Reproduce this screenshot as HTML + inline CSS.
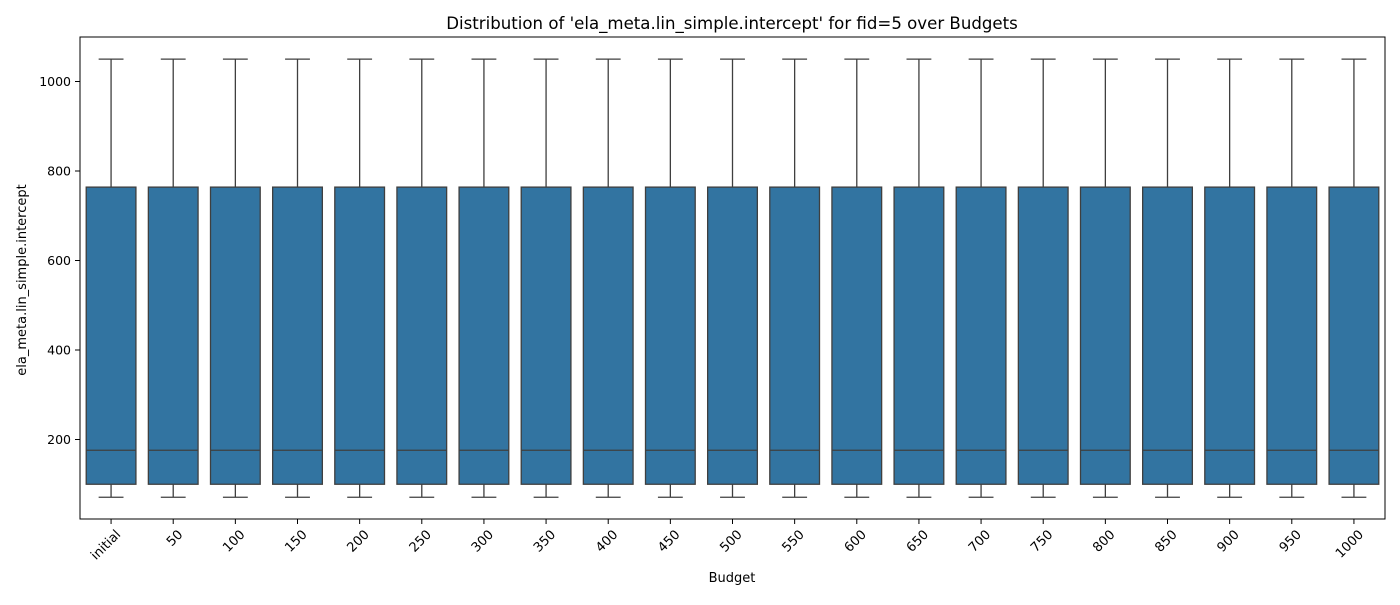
<!DOCTYPE html>
<html><head><meta charset="utf-8"><style>
body{margin:0;background:#fff}
svg text{font-family:"DejaVu Sans","Liberation Sans",sans-serif;fill:#000}
</style></head><body>
<svg id="chart" width="1400" height="600" viewBox="0 0 1400 600" xmlns="http://www.w3.org/2000/svg">
<text x="732" y="29" font-size="16.6" text-anchor="middle">Distribution of 'ela_meta.lin_simple.intercept' for fid=5 over Budgets</text>
<text transform="translate(26,280) rotate(-90)" font-size="13" text-anchor="middle">ela_meta.lin_simple.intercept</text>
<text x="732" y="582" font-size="13" text-anchor="middle">Budget</text>
<g id="boxes"></g>
<g id="yticks"></g>
<g id="xticks"></g>
<rect x="80" y="37" width="1305" height="482" fill="none" stroke="#000" stroke-width="1"/>
</svg>
<script>
const categories=["initial","50","100","150","200","250","300","350","400","450","500","550","600","650","700","750","800","850","900","950","1000"];
const whiskerLow=[71,71,71,71,71,71,71,71,71,71,71,71,71,71,71,71,71,71,71,71,71];
const q1=[100,100,100,100,100,100,100,100,100,100,100,100,100,100,100,100,100,100,100,100,100];
const median=[176,176,176,176,176,176,176,176,176,176,176,176,176,176,176,176,176,176,176,176,176];
const q3=[764,764,764,764,764,764,764,764,764,764,764,764,764,764,764,764,764,764,764,764,764];
const whiskerHigh=[1050,1050,1050,1050,1050,1050,1050,1050,1050,1050,1050,1050,1050,1050,1050,1050,1050,1050,1050,1050,1050];
const yTicks=[200,400,600,800,1000];
const NS="http://www.w3.org/2000/svg";
const L=80,R=1385;
const step=(R-L)/categories.length;
const x=i=>L+step*(i+0.5);
const y=v=>81.5+(1000-v)*0.4475;
function mk(tag,attrs,parent){const e=document.createElementNS(NS,tag);for(const k in attrs)e.setAttribute(k,attrs[k]);parent.appendChild(e);return e;}
const gb=document.getElementById('boxes'),gy=document.getElementById('yticks'),gx=document.getElementById('xticks');
const bw=step*0.8,cw=step*0.4,st="#3f3f3f";
categories.forEach((c,i)=>{
  const g=mk('g',{},gb);
  
  
  const cx=x(i);
  mk('line',{x1:cx,x2:cx,y1:y(whiskerHigh[i]),y2:y(q3[i]),stroke:st,'stroke-width':1.3},g);
  mk('line',{x1:cx,x2:cx,y1:y(q1[i]),y2:y(whiskerLow[i]),stroke:st,'stroke-width':1.3},g);
  mk('line',{x1:cx-cw/2,x2:cx+cw/2,y1:y(whiskerHigh[i]),y2:y(whiskerHigh[i]),stroke:st,'stroke-width':1.3},g);
  mk('line',{x1:cx-cw/2,x2:cx+cw/2,y1:y(whiskerLow[i]),y2:y(whiskerLow[i]),stroke:st,'stroke-width':1.3},g);
  mk('rect',{x:cx-bw/2,y:y(q3[i]),width:bw,height:y(q1[i])-y(q3[i]),fill:'#3274a1',stroke:st,'stroke-width':1.3},g);
  mk('line',{x1:cx-bw/2,x2:cx+bw/2,y1:y(median[i]),y2:y(median[i]),stroke:st,'stroke-width':1.3},g);
  const t=mk('line',{x1:cx,x2:cx,y1:519,y2:524,stroke:'#000'},gx);
  
  
  const lb=mk('text',{transform:`translate(${cx+4},${529}) rotate(-45)`,'font-size':13,'text-anchor':'end','dominant-baseline':'hanging'},gx);
  
  
  lb.textContent=c;
});
yTicks.forEach(v=>{
  const t=mk('line',{x1:75,x2:80,y1:y(v),y2:y(v),stroke:'#000'},gy);
  
  
  const lb=mk('text',{x:71,y:y(v)+4.5,'font-size':12.5,'text-anchor':'end'},gy);
  
  
  lb.textContent=v;
});
</script>
</body></html>
